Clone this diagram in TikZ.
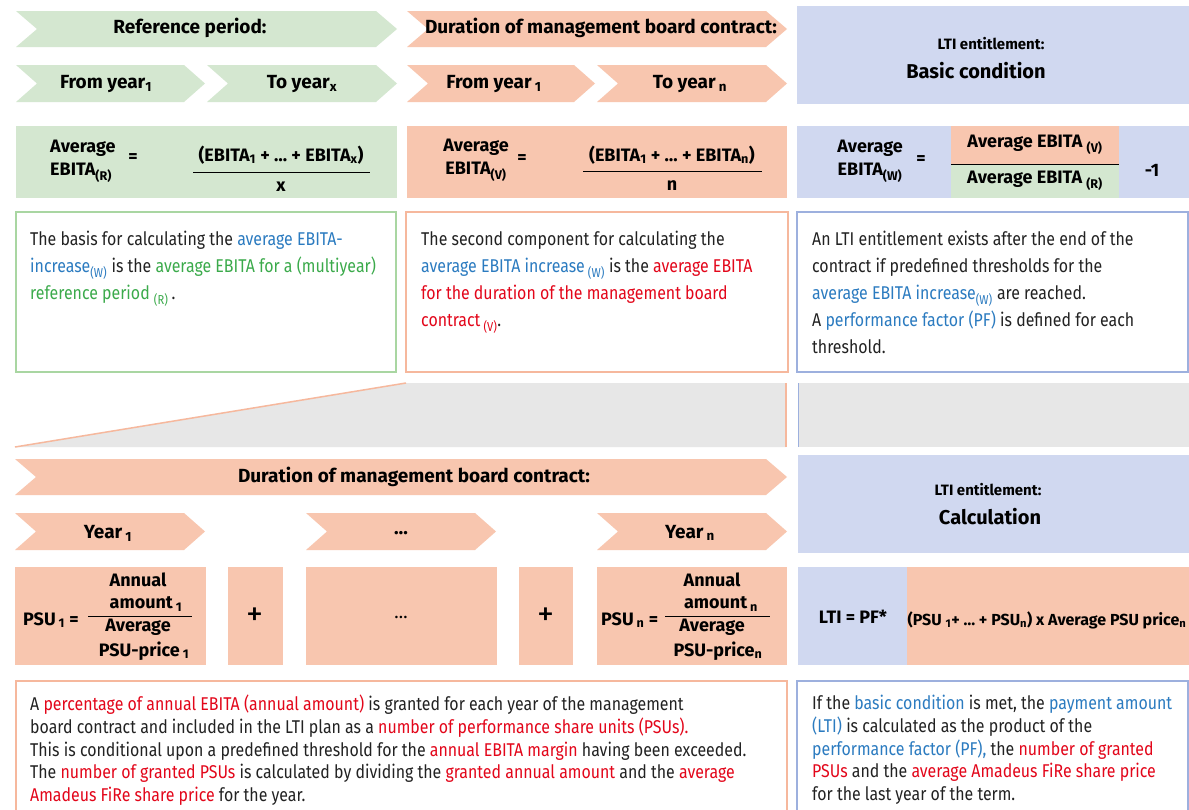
\documentclass[tikz,border=0pt]{standalone}
\usepackage{fontspec}
\setmainfont{Fira Sans}
\newfontfamily\bodyfont{Fira Sans}[FakeStretch=0.86]
\definecolor{fgreen}{HTML}{D4E7D0}
\definecolor{fsalmon}{HTML}{F8C6AF}
\definecolor{fblue}{HTML}{D0D8F0}
\definecolor{fgray}{HTML}{E7E7E7}
\definecolor{lgreen}{HTML}{A9D6A2}
\definecolor{lsalmon}{HTML}{F6B89D}
\definecolor{lblue}{HTML}{9DB0DE}
\definecolor{tgreen}{HTML}{3BAA4B}
\definecolor{tblue}{HTML}{2B7BC0}
\definecolor{tred}{HTML}{E3061A}
\definecolor{tblack}{HTML}{222222}
\newcommand\cblue[1]{\textcolor{tblue}{#1}}
\newcommand\cgreen[1]{\textcolor{tgreen}{#1}}
\newcommand\cred[1]{\textcolor{tred}{#1}}
\newcommand\lo[1]{\textsubscript{#1}}
\newcommand\chevron[5]{\fill[#5] (#1,#3) -- ({#2-21},#3) -- (#2,{(#3+#4)/2}) -- ({#2-21},#4) -- (#1,#4) -- ({#1+21},{(#3+#4)/2}) -- cycle;}
\tikzset{
  ttl/.style={font=\bfseries\fontsize{19}{21}\selectfont, text=black, inner sep=0},
  ttlsmall/.style={font=\bfseries\fontsize{15}{17}\selectfont, text=black, inner sep=0},
  ttlbig/.style={font=\bfseries\fontsize{20}{22}\selectfont, text=black, inner sep=0},
  fml/.style={font=\bfseries\fontsize{18}{23}\selectfont, text=black, inner sep=0},
  body/.style={font=\bodyfont\fontsize{18.5}{27}\selectfont, align=left, anchor=north west, inner sep=0, text=tblack},
  bodyb/.style={font=\bodyfont\fontsize{18.5}{22.7}\selectfont, align=left, anchor=north west, inner sep=0, text=tblack},
  outl/.style={line width=1.5pt},
}
\begin{document}
\begin{tikzpicture}[x=1pt,y=-1pt]
\useasboundingbox (0,0) rectangle (1189,809);
\fill[white] (0,0) rectangle (1189,809);
% ---------- top row chevrons
\chevron{16}{397}{11}{47}{fgreen}
\chevron{16}{205}{65}{102}{fgreen}
\chevron{207}{397}{65}{102}{fgreen}
\chevron{407}{787}{11}{47}{fsalmon}
\chevron{407}{595}{65}{102}{fsalmon}
\chevron{597}{787}{65}{102}{fsalmon}
\fill[fblue] (797,6) rectangle (1189,104);
\node[ttl] (refp) at (190,28) {Reference period:};
\node[ttl] (fy1) at (106,84) {From year\lo{1}};
\node[ttl] (tyx) at (302,84) {To year\lo{x}};
\node[ttl] (dur1) at (601,28) {Duration of management board contract:};
\node[ttl] (fy1b) at (494,84) {From year\,\lo{1}};
\node[ttl] (tyn) at (690,84) {To year\,\lo{n}};
\node[ttlsmall] (lti1) at (991,44) {LTI entitlement:};
\node[ttlbig] (basic) at (976,71) {Basic condition};
% ---------- formula row
\fill[fgreen] (16,126) rectangle (397,198);
\fill[fsalmon] (407,126) rectangle (787,198);
\fill[fblue] (797,126) rectangle (1189,198);
\fill[fsalmon] (951,126) rectangle (1119,164);
\fill[fgreen] (951,164) rectangle (1119,198);
\node[fml, align=left, anchor=west] (avgR) at (50,161) {Average\\EBITA\lo{(R)}};
\node[fml] (eqR) at (133,158) {=};
\node[fml] (numR) at (281,155) {(EBITA\lo{1} + … + EBITA\lo{x})};
\node[fml] (denR) at (281,187) {x};
\coordinate (lRa) at (193,172); \coordinate (lRb) at (370,172);
\draw[line width=1pt] (lRa) -- (lRb);
\node[fml, align=center] (avgV) at (476,160) {Average\\EBITA\lo{(V)}};
\node[fml] (eqV) at (522,159) {=};
\node[fml] (numV) at (672,155) {(EBITA\lo{1} + … + EBITA\lo{n})};
\node[fml] (denV) at (672,186) {n};
\coordinate (lVa) at (583,171); \coordinate (lVb) at (762,171);
\draw[line width=1pt] (lVa) -- (lVb);
\node[fml, align=center] (avgW) at (870,161) {Average\\EBITA\lo{(W)}};
\node[fml] (eqW) at (921,160) {=};
\node[fml] (numW) at (1035,145) {Average EBITA \lo{(V)}};
\node[fml] (denW) at (1035,181) {Average EBITA \lo{(R)}};
\coordinate (lWa) at (951,164); \coordinate (lWb) at (1119,164);
\draw[line width=1pt] (lWa) -- (lWb);
\node[fml] (m1) at (1152,170) {-1};
% ---------- text boxes row
\draw[outl, lgreen] (16,212) rectangle (396,372);
\draw[outl, lsalmon] (406,212) rectangle (788,372);
\draw[outl, lblue] (797,212) rectangle (1188,372);
\node[body] (tg) at (30,231) {The basis for calculating the \cblue{average EBITA-}\\
\cblue{increase\lo{(W)}} is the \cgreen{average EBITA for a (multiyear)}\\
\cgreen{reference period \lo{(R)}}\,.};
\node[body] (ts) at (421,231) {The second component for calculating the\\
\cblue{average EBITA increase\,\lo{(W)}} is the \cred{average EBITA}\\
\cred{for the duration of the management board}\\
\cred{contract\,\lo{(V)}}.};
\node[body] (tb) at (812,231) {An LTI entitlement exists after the end of the\\
contract if predefined thresholds for the\\
\cblue{average EBITA increase\lo{(W)}} are reached.\\
A \cblue{performance factor (PF)} is defined for each\\
threshold.};
% ---------- gray band
\coordinate (g1) at (15,447); \coordinate (g2) at (406,383);
\fill[fgray] (g1) -- (g2) -- (786,383) -- (786,447) -- cycle;
\draw[lsalmon, line width=1.5pt] (g1) -- (g2);
\draw[lsalmon, line width=2pt] (786,383) -- (786,447);
\fill[fgray] (798,383) rectangle (1189,447);
\draw[lblue, line width=1pt] (798,383) -- (798,447);
% ---------- bottom chevrons
\chevron{15}{787}{459}{495}{fsalmon}
\node[ttl] (dur2) at (414,477) {Duration of management board contract:};
\fill[fblue] (798,455) rectangle (1189,553);
\node[ttlsmall] (lti2) at (988,490) {LTI entitlement:};
\node[ttlbig] (calc) at (990,517) {Calculation};
\chevron{15}{205}{513}{550}{fsalmon}
\chevron{306}{496}{513}{550}{fsalmon}
\chevron{597}{787}{513}{550}{fsalmon}
\node[ttl] (y1) at (108,533) {Year\,\lo{1}};
\node[ttl] (ydots) at (401,533) {…};
\node[ttl] (yn) at (690,533) {Year\,\lo{n}};
% ---------- PSU row
\fill[fsalmon] (15,567) rectangle (206,665);
\fill[fsalmon] (228,567) rectangle (283,665);
\fill[fsalmon] (306,567) rectangle (497,665);
\fill[fsalmon] (519,567) rectangle (573,665);
\fill[fsalmon] (597,567) rectangle (787,665);
\fill[fblue] (798,567) rectangle (907,665);
\fill[fsalmon] (907,567) rectangle (1189,665);
\node[fml, anchor=west] (psu1) at (23,620) {PSU\,\lo{1} =};
\node[fml] (an1) at (138,580) {Annual};
\node[fml] (am1) at (146,604) {amount\,\lo{1}};
\node[fml] (av1) at (138,627) {Average};
\node[fml] (pp1) at (144,651) {PSU-price\,\lo{1}};
\coordinate (l1a) at (88,616); \coordinate (l1b) at (192,616);
\draw[line width=1pt] (l1a) -- (l1b);
\node[fml, font=\fontsize{34}{36}\selectfont] (plus1) at (255,617) {+};
\node[fml, font=\fontsize{18}{20}\selectfont] (dots) at (401,617) {…};
\node[fml, font=\fontsize{34}{36}\selectfont] (plus2) at (546,617) {+};
\node[fml, anchor=west] (psun) at (601,620) {PSU\,\lo{n} =};
\node[fml] (ann) at (712,580) {Annual};
\node[fml] (amn) at (721,604) {amount\,\lo{n}};
\node[fml] (avn) at (712,627) {Average};
\node[fml] (ppn) at (718,651) {PSU-price\lo{n}};
\coordinate (lna) at (665,616); \coordinate (lnb) at (770,616);
\draw[line width=1pt] (lna) -- (lnb);
\node[fml] (lti) at (853,617) {LTI = PF*};
\node[ttlsmall, font=\bfseries\fontsize{16}{18}\selectfont] (prod) at (1047,620) {(PSU \lo{1}+ … + PSU\lo{n}) x Average PSU price\lo{n}};
% ---------- bottom text boxes
\draw[outl, lsalmon] (16,681) rectangle (787,815);
\draw[outl, lblue] (797,681) rectangle (1188,815);
\node[bodyb] (tbl) at (30,695) {A \cred{percentage of annual EBITA (annual amount)} is granted for each year of the management\\
board contract and included in the LTI plan as a \cred{number of performance share units (PSUs).}\\
This is conditional upon a predefined threshold for the \cred{annual EBITA margin} having been exceeded.\\
The \cred{number of granted PSUs} is calculated by dividing the \cred{granted annual amount} and the \cred{average}\\
\cred{Amadeus FiRe share price} for the year.};
\node[bodyb] (tbr) at (812,695) {If the \cblue{basic condition} is met, the \cblue{payment amount}\\
\cblue{(LTI)} is calculated as the product of the\\
\cblue{performance factor (PF),} the \cred{number of granted}\\
\cred{PSUs} and the \cred{average Amadeus FiRe share price}\\
for the last year of the term.};
\end{tikzpicture}
\end{document}
